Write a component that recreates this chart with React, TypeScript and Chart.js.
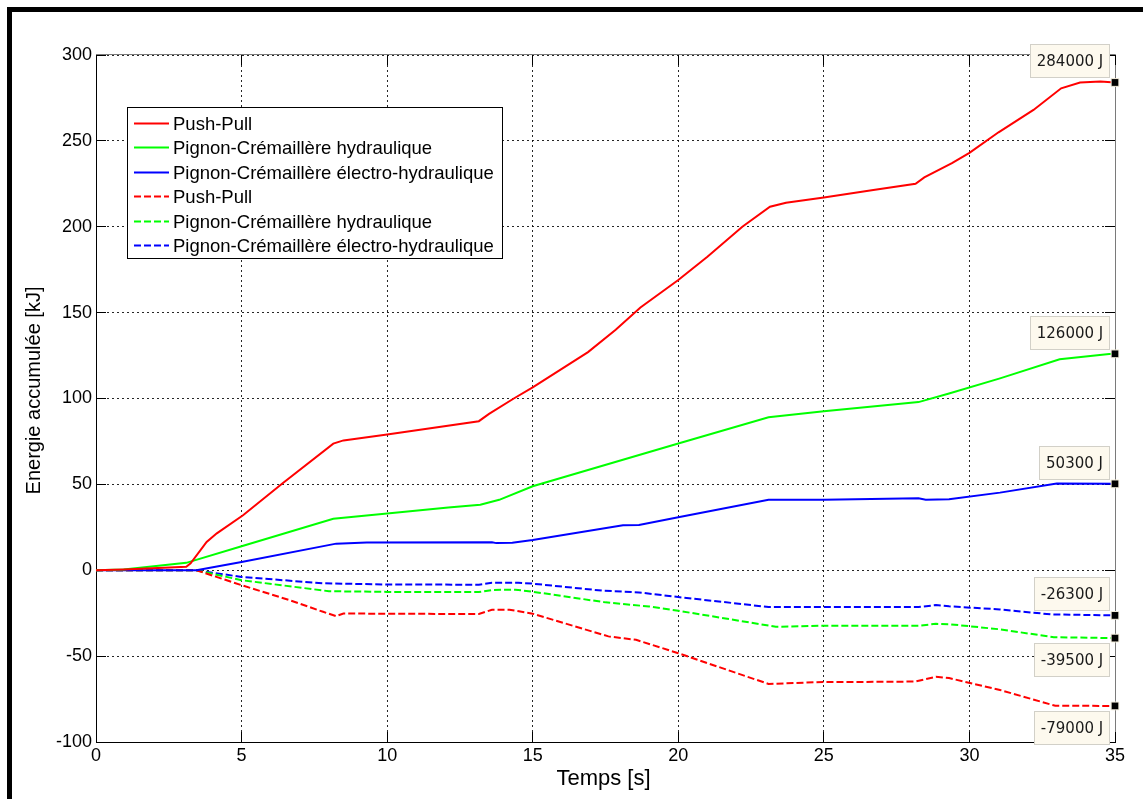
import React, { useEffect, useRef } from 'react';
import { Chart, registerables } from 'chart.js';

Chart.register(...registerables);

const FONT = "'Liberation Sans', Arial, sans-serif";
const NOTE_FONT = "'DejaVu Sans', Verdana, sans-serif";

// ---- data (time in s, energy in kJ) ----
const pushPullT = [0, 0.95, 3.1, 3.25, 3.8, 4.15, 5.05, 6.4, 8.15, 8.5, 10, 13.15, 13.5, 14.35, 15, 16.9, 17.85, 18.7, 20, 21, 22.2, 23.15, 23.7, 25, 26.7, 28.15, 28.45, 29.4, 30, 31, 32.2, 33.15, 33.8, 34.5, 35];
const pushPullE = [0, 0.4, 2, 4, 16.5, 21.5, 32, 50.5, 73.7, 75.6, 79, 86.8, 91, 100, 106.5, 127, 140, 153, 169, 182.5, 200, 211.7, 214, 217, 221.4, 225, 228.7, 237, 243, 255, 268, 280.6, 284, 284.6, 284];

const hydroT = [0, 0.95, 3.1, 5, 8.15, 10, 12.1, 13.2, 13.85, 15, 20, 23.1, 25, 28.25, 29.3, 31.05, 33.1, 34.8, 35];
const hydroE = [0, 0.4, 4.3, 14, 30, 33, 36.6, 38.2, 41, 48.9, 73.8, 89.1, 92.6, 97.9, 102.9, 111.7, 122.8, 125.9, 126];

const electroT = [0, 3.45, 5, 8.25, 9.3, 13.6, 13.75, 14.3, 15, 18.1, 18.65, 20, 23.1, 25, 28.25, 28.5, 29.3, 31.05, 33, 35];
const electroE = [0, 0, 4.8, 15.5, 16.1, 16.3, 15.8, 16, 17.6, 26.2, 26.4, 30.8, 41.1, 41.1, 41.9, 41.1, 41.3, 45.2, 50.5, 50.3];

const pushPullRegT = [0, 3.45, 5, 6.65, 7.8, 8.25, 8.5, 10, 13.15, 13.6, 14.2, 15, 17.6, 18.55, 20, 23.1, 25, 26.4, 28.15, 28.85, 29.3, 31.05, 32.95, 35];
const pushPullRegE = [0, 0, -8.7, -17.4, -24.2, -26.7, -25.2, -25.3, -25.5, -23, -23, -25.3, -38.5, -40.5, -48.3, -66.2, -65, -65, -64.8, -62, -62.8, -69.7, -78.9, -79];

const hydroRegT = [0, 3.45, 5, 8.0, 10, 13.15, 13.6, 14.4, 15, 17.5, 19, 20, 23.35, 25, 28.25, 28.85, 29.3, 31.05, 32.9, 35];
const hydroRegE = [0, 0, -5.8, -12.2, -12.6, -12.7, -11.5, -11.3, -12.5, -18.7, -21.1, -23.6, -32.9, -32.3, -32.3, -31.2, -31.4, -34.4, -39, -39.5];

const electroRegT = [0, 3.45, 5, 7.8, 10, 13.15, 13.6, 14.5, 15, 17.4, 18.65, 20, 23.1, 25, 28.25, 28.85, 29.3, 31.05, 32.8, 35];
const electroRegE = [0, 0, -3.9, -7.6, -8.3, -8.4, -7.3, -7.3, -7.8, -11.9, -12.9, -15.6, -21.4, -21.4, -21.4, -20.3, -21, -22.8, -25.7, -26.3];

const seriesLabels = ['Push-Pull', 'Pignon-Crémaillère hydraulique', 'Pignon-Crémaillère électro-hydraulique'];
const seriesColors = ['#ff0000', '#00ff00', '#0000ff'];
const finalLabels = ['284000 J', '126000 J', '50300 J', '-79000 J', '-39500 J', '-26300 J'];
const labelAbove = [true, true, true, false, false, true];

const xTitle = 'Temps [s]';
const yTitle = 'Energie accumulée [kJ]';
const xMin = 0, xMax = 35, xStep = 5;
const yMin = -100, yMax = 300, yStep = 50;

const toPoints = (t: number[], e: number[]) => t.map((v, i) => ({ x: v, y: e[i] }));

const makeDataset = (label: string, color: string, t: number[], e: number[], dashed: boolean) => ({
  label,
  data: toPoints(t, e),
  borderColor: color,
  backgroundColor: color,
  borderWidth: 2,
  borderDash: dashed ? [7, 3] : [],
  tension: 0,
  fill: false,
  clip: false as any,
  pointStyle: 'rect',
  pointRadius: (c: any) => (c.dataIndex === t.length - 1 ? 5.5 : 0),
  pointBackgroundColor: '#000',
  pointBorderColor: '#f3eddc',
  pointBorderWidth: 1,
});

const line = (ctx: CanvasRenderingContext2D, x1: number, y1: number, x2: number, y2: number) => {
  ctx.beginPath();
  ctx.moveTo(x1, y1);
  ctx.lineTo(x2, y2);
  ctx.stroke();
};

const framePlugin = {
  id: 'matlabFrame',
  beforeDatasetsDraw(chart: any) {
    const { ctx, chartArea } = chart;
    const { left, right, top, bottom } = chartArea;
    const xs = chart.scales.x;
    const ys = chart.scales.y;
    ctx.save();
    ctx.strokeStyle = '#7a7a7a';
    ctx.lineWidth = 1;
    ctx.setLineDash([]);
    const r = Math.round(right) + 0.5;
    const tp = Math.round(top) - 0.5;
    line(ctx, left, tp, r, tp);
    line(ctx, r, tp, r, bottom);
    ctx.strokeStyle = '#000';
    const L = 10;
    xs.ticks.forEach((t: any) => {
      const px = Math.round(xs.getPixelForValue(t.value) - 0.5) + 0.5;
      line(ctx, px, bottom, px, bottom - L);
      line(ctx, px, top, px, top + L);
    });
    ys.ticks.forEach((t: any) => {
      const py = Math.round(ys.getPixelForValue(t.value) - 0.5) + 0.5;
      line(ctx, left, py, left + L, py);
      line(ctx, right, py, right - L, py);
    });
    ctx.restore();
  },
  afterDraw(chart: any) {
    const { ctx, chartArea } = chart;
    ctx.save();
    ctx.fillStyle = '#000';
    ctx.font = `20px ${FONT}`;
    ctx.textAlign = 'center';
    ctx.textBaseline = 'middle';
    ctx.save();
    ctx.translate(22, 378.5);
    ctx.rotate(-Math.PI / 2);
    ctx.fillText(yTitle, 0, 0);
    ctx.restore();
    ctx.font = `22px ${FONT}`;
    ctx.fillText(xTitle, (chartArea.left + chartArea.right) / 2 - 2, 767);

    const lx = 115, ly = 95, lw = 375, lh = 151;
    ctx.fillStyle = '#fff';
    ctx.fillRect(lx, ly, lw, lh);
    ctx.strokeStyle = '#000';
    ctx.lineWidth = 1;
    ctx.setLineDash([]);
    ctx.strokeRect(lx + 0.5, ly + 0.5, lw, lh);
    ctx.font = `18.5px ${FONT}`;
    ctx.textAlign = 'left';
    ctx.textBaseline = 'middle';
    chart.data.datasets.forEach((ds: any, i: number) => {
      const cy = Math.round(ly + 16 + i * 24.4) + 0.5;
      ctx.strokeStyle = ds.borderColor;
      ctx.lineWidth = 2;
      ctx.setLineDash(ds.borderDash || []);
      line(ctx, lx + 7, cy, lx + 42, cy);
      ctx.setLineDash([]);
      ctx.fillStyle = '#000';
      ctx.fillText(ds.label, lx + 46, cy + 1);
    });

    ctx.font = `15px ${NOTE_FONT}`;
    ctx.textAlign = 'center';
    chart.data.datasets.forEach((ds: any, i: number) => {
      const meta = chart.getDatasetMeta(i);
      const pt = meta.data[meta.data.length - 1];
      const text = finalLabels[i];
      const tw = ctx.measureText(text).width;
      const w = Math.round(tw + 14);
      const h = 34;
      const x1 = Math.round(pt.x - 5 - w);
      const y1 = labelAbove[i] ? Math.round(pt.y - 4 - h) : Math.round(pt.y + 5);
      ctx.fillStyle = '#fdf9ee';
      ctx.fillRect(x1, y1, w, h);
      ctx.strokeStyle = '#d2d0c8';
      ctx.lineWidth = 1;
      ctx.strokeRect(x1 + 0.5, y1 + 0.5, w - 1, h - 1);
      ctx.fillStyle = '#1a1a1a';
      ctx.fillText(text, x1 + w / 2, y1 + h / 2 + 1);
    });
    ctx.restore();
  },
};

export default function App() {
  const ref = useRef<HTMLCanvasElement>(null);

  useEffect(() => {
    if (!ref.current) return;
    const datasets = [
      makeDataset(seriesLabels[0], seriesColors[0], pushPullT, pushPullE, false),
      makeDataset(seriesLabels[1], seriesColors[1], hydroT, hydroE, false),
      makeDataset(seriesLabels[2], seriesColors[2], electroT, electroE, false),
      makeDataset(seriesLabels[0], seriesColors[0], pushPullRegT, pushPullRegE, true),
      makeDataset(seriesLabels[1], seriesColors[1], hydroRegT, hydroRegE, true),
      makeDataset(seriesLabels[2], seriesColors[2], electroRegT, electroRegE, true),
    ];
    const chart = new Chart(ref.current, {
      type: 'line',
      data: { datasets: datasets as any },
      options: {
        animation: false,
        responsive: false,
        devicePixelRatio: 1,
        events: [],
        layout: { padding: { top: 43, right: 28, left: 0, bottom: 0 } },
        plugins: { legend: { display: false }, tooltip: { enabled: false } },
        scales: {
          x: {
            type: 'linear',
            min: xMin,
            max: xMax,
            afterFit: (s: any) => { s.height = 57; },
            ticks: { stepSize: xStep, color: '#000', font: { family: FONT, size: 18 }, padding: 3, maxRotation: 0 },
            grid: { color: 'rgba(0,0,0,0.85)', lineWidth: 1, drawTicks: false },
            border: { display: true, color: '#000', width: 1, dash: [2, 3] },
          },
          y: {
            type: 'linear',
            min: yMin,
            max: yMax,
            afterFit: (s: any) => { s.width = 84; },
            ticks: { stepSize: yStep, color: '#000', font: { family: FONT, size: 18 }, padding: 4 },
            grid: { color: 'rgba(0,0,0,0.85)', lineWidth: 1, drawTicks: false },
            border: { display: true, color: '#000', width: 1, dash: [2, 3] },
          },
        },
      },
      plugins: [framePlugin],
    });
    return () => chart.destroy();
  }, []);

  return (
    <div
      style={{
        position: 'fixed',
        left: 7,
        top: 7,
        width: 1136,
        height: 792,
        boxSizing: 'border-box',
        borderTop: '5px solid #000',
        borderLeft: '5px solid #000',
        background: '#fff',
      }}
    >
      <canvas ref={ref} width={1131} height={787} style={{ display: 'block', width: 1131, height: 787 }} />
    </div>
  );
}
